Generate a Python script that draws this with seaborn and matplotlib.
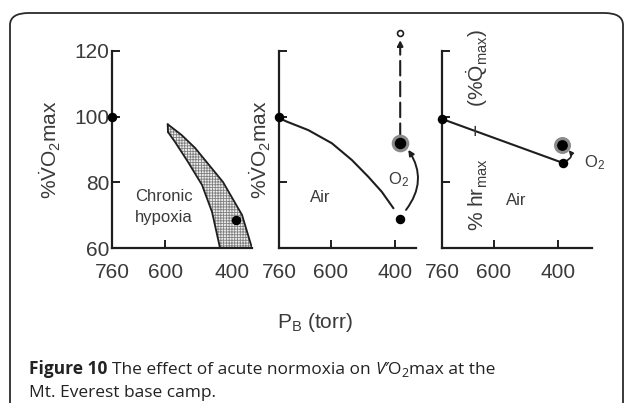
import numpy as np
import pandas as pd
import matplotlib
matplotlib.use("Agg")
import matplotlib.pyplot as plt
import seaborn as sns
from matplotlib.patches import FancyBboxPatch

# ---- data ----
pb_ticks = [760, 600, 400]
vo2_ticks = [60, 80, 100, 120]

# left panel: chronic hypoxia band + points
band_outer_pb = [593, 551, 511, 427, 370, 340]
band_outer_y = [97.7, 94.4, 90.5, 80.1, 70.1, 60]
band_inner_pb = [592, 571, 532, 490, 460, 436]
band_inner_y = [95.3, 92.3, 86.2, 79.2, 71.0, 60]
left_pts_pb = [760, 388]
left_pts_y = [100, 68.5]

# middle panel: air curve and O2 response
air_pb = [760, 736, 669, 596, 534, 483, 441, 405]
air_y = [99.6, 98.5, 95.9, 91.9, 86.8, 81.7, 77.1, 72.1]
mid_pts_pb = [760, 384]
mid_pts_y = [100, 68.8]
mid_o2_pb = 384
mid_o2_y = 92.0
mid_open_y = 125.5

# right panel: heart rate
hr_pb = [760, 384]
hr_y = [99.3, 85.9]
hr_o2_pb = 387
hr_o2_y = 91.4

sns.set_theme(style="ticks")
plt.rcParams["font.family"] = ["Liberation Sans", "DejaVu Sans"]
plt.rcParams["mathtext.fontset"] = "custom"
plt.rcParams["mathtext.rm"] = "Liberation Sans"
plt.rcParams["mathtext.it"] = "Liberation Sans:italic"
plt.rcParams["mathtext.bf"] = "Liberation Sans:bold"
plt.rcParams["hatch.linewidth"] = 0.6
plt.rcParams["hatch.color"] = "#7a7a7a"

ink = "#1e1e1e"
txt = "#3a3a3a"

fig = plt.figure(figsize=(6.27, 4.03), dpi=100)
W, H = 627, 403

def add_ax(x0, x1, y0=51, y1=248):
    return fig.add_axes([x0 / W, 1 - y1 / H, (x1 - x0) / W, (y1 - y0) / H])

ax1 = add_ax(112, 252)
ax2 = add_ax(279, 416)
ax3 = add_ax(442, 592)

for ax, xr in [(ax1, 340), (ax2, 335), (ax3, 294)]:
    ax.set_xlim(760, xr)
    ax.set_ylim(60, 120)
    ax.set_facecolor("none")
    for s in ["top", "right"]:
        ax.spines[s].set_visible(False)
    for s in ["left", "bottom"]:
        ax.spines[s].set_color(ink)
        ax.spines[s].set_linewidth(1.6)
    ax.set_xticks(pb_ticks)
    ax.set_xticklabels([str(t) for t in pb_ticks])
    ax.set_yticks(vo2_ticks)
    ax.tick_params(direction="in", length=6, width=1.4, color=ink,
                   labelsize=15, labelcolor=txt)
    ax.tick_params(axis="x", pad=11)
    ax.tick_params(axis="y", pad=2)
    ax.set_xlabel("")
    ax.set_ylabel("")

ax2.set_yticklabels([])
ax3.set_yticklabels([])
ax1.set_ylabel(r"%$\dot{\mathrm{V}}$O$_2$max", fontsize=15, color=txt, labelpad=8)
ax2.set_ylabel(r"%$\dot{\mathrm{V}}$O$_2$max", fontsize=15, color=txt, labelpad=2)

# ---- left panel ----
poly_pb = band_outer_pb + band_inner_pb[::-1]
poly_y = band_outer_y + band_inner_y[::-1]
ax1.fill(poly_pb, poly_y, facecolor="#eeeeee", edgecolor="#808080",
         hatch="++++++", linewidth=0)
sns.lineplot(x=band_outer_pb, y=band_outer_y, ax=ax1, color=ink, lw=1.3, sort=False)
sns.lineplot(x=band_inner_pb, y=band_inner_y, ax=ax1, color=ink, lw=1.3, sort=False)
ax1.plot([band_outer_pb[0], band_inner_pb[0]], [band_outer_y[0], band_inner_y[0]],
         color=ink, lw=1.3)
ax1.scatter(left_pts_pb, left_pts_y, s=34, color="black", zorder=5, clip_on=False)
ax1.text(604, 72.5, "Chronic\nhypoxia", fontsize=12, color=txt, ha="center",
         va="center", linespacing=1.55)

# ---- middle panel ----
sns.lineplot(x=air_pb, y=air_y, ax=ax2, color=ink, lw=1.5, sort=False)
ax2.scatter(mid_pts_pb, mid_pts_y, s=34, color="black", zorder=5, clip_on=False)
ax2.scatter([mid_o2_pb], [mid_o2_y], s=110, facecolor="black", edgecolor="#8a8a8a",
            linewidth=2.2, zorder=6)
ax2.annotate("", xy=(mid_o2_pb, mid_open_y - 2.2), xytext=(mid_o2_pb, mid_o2_y + 1.5),
             arrowprops=dict(arrowstyle="-|>", color=ink, lw=1.5, linestyle=(0, (7, 3)),
                             mutation_scale=8, shrinkA=0, shrinkB=0),
             annotation_clip=False)
ax2.scatter([mid_o2_pb], [mid_open_y], s=18, facecolor="white", edgecolor=ink,
            linewidth=1.2, zorder=6, clip_on=False)
ax2.annotate("", xy=(359, 89.9), xytext=(366, 71.6),
             arrowprops=dict(arrowstyle="-|>", color=ink, lw=1.4,
                             connectionstyle="arc3,rad=0.35", mutation_scale=8,
                             shrinkA=0, shrinkB=0),
             annotation_clip=False)
ax2.text(390, 80.7, r"O$_2$", fontsize=12, color=txt, ha="center", va="center")
ax2.text(633, 75.5, "Air", fontsize=12, color=txt, ha="center", va="center")

# ---- right panel ----
sns.lineplot(x=hr_pb, y=hr_y, ax=ax3, color=ink, lw=1.5, sort=False)
ax3.scatter(hr_pb, hr_y, s=34, color="black", zorder=5, clip_on=False)
ax3.scatter([hr_o2_pb], [hr_o2_y], s=100, facecolor="black", edgecolor="#8a8a8a",
            linewidth=2.2, zorder=6)
ax3.annotate("", xy=(366, 89.8), xytext=(373, 86.6),
             arrowprops=dict(arrowstyle="-|>", color=ink, lw=1.2,
                             connectionstyle="arc3,rad=0.6", mutation_scale=6,
                             shrinkA=0, shrinkB=0),
             annotation_clip=False)
ax3.text(286, 86, r"O$_2$", fontsize=12, color=txt, ha="center", va="center")
ax3.text(528, 74.6, "Air", fontsize=12, color=txt, ha="center", va="center")
ax3.text(650, 96, r"% hr$_{\mathrm{max}}$    $-$   (%$\dot{\mathrm{Q}}_{\mathrm{max}}$)",
         rotation=90, fontsize=15, color=txt, ha="center", va="center")

# ---- shared x label ----
fig.text(315 / W, 1 - 323 / H, r"P$_\mathrm{B}$ (torr)", fontsize=15, color=txt,
         ha="center", va="center")

# ---- frame ----
frame = FancyBboxPatch((10 / W, -0.2), (613 / W), 1.2 - 13 / H,
                       boxstyle="round,pad=0,rounding_size=0.03",
                       transform=fig.transFigure, facecolor="none",
                       edgecolor="#2a2a2a", linewidth=1.3, clip_on=False)
fig.patches.append(frame)

# ---- caption ----
fig.canvas.draw()
renderer = fig.canvas.get_renderer()
cap_font = ["Open Sans", "DejaVu Sans"]

def put(x, y, s, **kw):
    t = fig.text(x / W, 1 - y / H, s, family=cap_font, color="#222222",
                 va="baseline", ha="left", **kw)
    return x + t.get_window_extent(renderer).width

x = 29
x = put(x, 374, "Figure 10 ", fontsize=12.5, weight="bold")
x = put(x, 374, "The effect of acute normoxia on ", fontsize=12.5)
x = put(x, 374, "V\u2032", fontsize=12.5, style="italic")
x = put(x, 374, "O", fontsize=12.5)
x = put(x, 377, "2", fontsize=9)
x = put(x, 374, "max at the", fontsize=12.5)
put(29, 397, "Mt. Everest base camp.", fontsize=12.5)

fig.savefig("out.png", dpi=100)
